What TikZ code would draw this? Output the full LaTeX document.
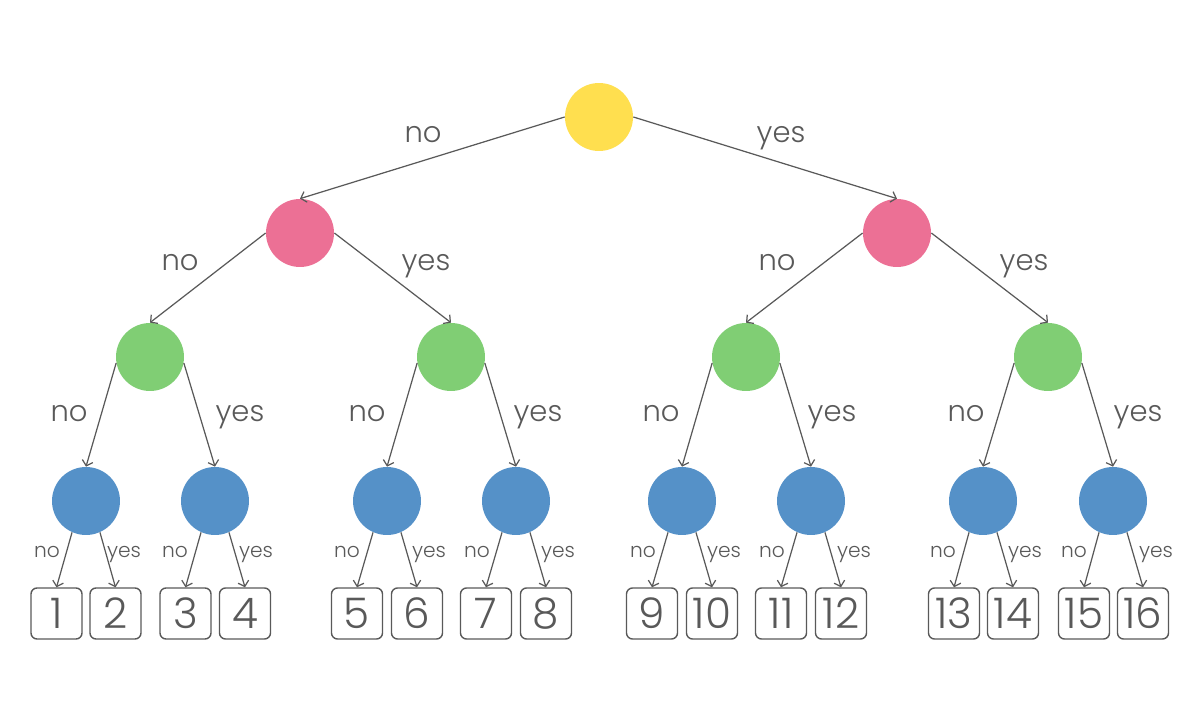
\documentclass[tikz,border=0pt]{standalone}
\usepackage{fontspec}
\setmainfont{Poppins}
\newfontfamily\lightfont{Poppins Light}
\usepackage{tikz}
\usetikzlibrary{arrows.meta}
\definecolor{rootc}{HTML}{FFDF4F}
\definecolor{pinkc}{HTML}{EC7095}
\definecolor{greenc}{HTML}{80CE74}
\definecolor{bluec}{HTML}{5591C8}
\definecolor{ink}{HTML}{595959}
\tikzset{
  dec/.style ={circle, minimum size=1.36cm, inner sep=0pt},
  leaf/.style={draw=ink, rounded corners=1.2mm, thick, minimum size=1.02cm, inner sep=0pt, text=ink, font=\lightfont\fontsize{24}{24}\selectfont},
  edge/.style={-{Straight Barb[length=1mm,width=2.2mm]}, draw=ink, line width=0.7pt},
  big/.style ={anchor=base, text=ink, font=\lightfont\fontsize{16.5}{16.5}\selectfont},
  small/.style={anchor=base, text=ink, font=\lightfont\fontsize{11.5}{11.5}\selectfont},
}
\begin{document}
\begin{tikzpicture}[x=0.02cm,y=-0.02cm]
  \useasboundingbox (0,0) rectangle (1200,722);
  % decision nodes
  \node[dec,fill=rootc]  (R)  at (599,117) {};
  \node[dec,fill=pinkc]  (P1) at (300,233) {};
  \node[dec,fill=pinkc]  (P2) at (897,233) {};
  \node[dec,fill=greenc] (G1) at (150,357) {};
  \node[dec,fill=greenc] (G2) at (451,357) {};
  \node[dec,fill=greenc] (G3) at (746,357) {};
  \node[dec,fill=greenc] (G4) at (1048,357) {};
  \node[dec,fill=bluec]  (B1) at (86,501) {};
  \node[dec,fill=bluec]  (B2) at (215,501) {};
  \node[dec,fill=bluec]  (B3) at (387,501) {};
  \node[dec,fill=bluec]  (B4) at (516,501) {};
  \node[dec,fill=bluec]  (B5) at (682,501) {};
  \node[dec,fill=bluec]  (B6) at (811,501) {};
  \node[dec,fill=bluec]  (B7) at (983,501) {};
  \node[dec,fill=bluec]  (B8) at (1113,501) {};
  % leaves
  \node[leaf] (L1)  at (56.5,613.5)  {1};
  \node[leaf] (L2)  at (115.5,613.5) {2};
  \node[leaf] (L3)  at (185.5,613.5) {3};
  \node[leaf] (L4)  at (245,613.5)   {4};
  \node[leaf] (L5)  at (357,613.5)   {5};
  \node[leaf] (L6)  at (417,613.5)   {6};
  \node[leaf] (L7)  at (486,613.5)   {7};
  \node[leaf] (L8)  at (546,613.5)   {8};
  \node[leaf] (L9)  at (652,613.5)   {9};
  \node[leaf] (L10) at (712,613.5)   {10};
  \node[leaf] (L11) at (781,613.5)   {11};
  \node[leaf] (L12) at (841,613.5)   {12};
  \node[leaf] (L13) at (954,613.5)   {13};
  \node[leaf] (L14) at (1013,613.5)  {14};
  \node[leaf] (L15) at (1084,613.5)  {15};
  \node[leaf] (L16) at (1143,613.5)  {16};
  % edges
  \draw[edge] (R.west) -- (P1.north);
  \draw[edge] (R.east) -- (P2.north);
  \draw[edge] (P1.west) -- (G1.north);
  \draw[edge] (P1.east) -- (G2.north);
  \draw[edge] (P2.west) -- (G3.north);
  \draw[edge] (P2.east) -- (G4.north);
  \draw[edge] (G1.190) -- (B1.north);
  \draw[edge] (G1.-10) -- (B2.north);
  \draw[edge] (G2.190) -- (B3.north);
  \draw[edge] (G2.-10) -- (B4.north);
  \draw[edge] (G3.190) -- (B5.north);
  \draw[edge] (G3.-10) -- (B6.north);
  \draw[edge] (G4.190) -- (B7.north);
  \draw[edge] (G4.-10) -- (B8.north);
  \draw[edge] (B1.-114) -- (L1.north);
  \draw[edge] (B1.-66)  -- (L2.north);
  \draw[edge] (B2.-114) -- (L3.north);
  \draw[edge] (B2.-66)  -- (L4.north);
  \draw[edge] (B3.-114) -- (L5.north);
  \draw[edge] (B3.-66)  -- (L6.north);
  \draw[edge] (B4.-114) -- (L7.north);
  \draw[edge] (B4.-66)  -- (L8.north);
  \draw[edge] (B5.-114) -- (L9.north);
  \draw[edge] (B5.-66)  -- (L10.north);
  \draw[edge] (B6.-114) -- (L11.north);
  \draw[edge] (B6.-66)  -- (L12.north);
  \draw[edge] (B7.-114) -- (L13.north);
  \draw[edge] (B7.-66)  -- (L14.north);
  \draw[edge] (B8.-114) -- (L15.north);
  \draw[edge] (B8.-66)  -- (L16.north);
  % answers
  \node[big] (aR1) at (423,143) {no};
  \node[big] (aR2) at (781,143) {yes};
  \node[big] (aP1) at (180,271) {no};
  \node[big] (aP2) at (426,271) {yes};
  \node[big] (aP3) at (777,271) {no};
  \node[big] (aP4) at (1024,271) {yes};
  \node[big] (aG1) at (69,422) {no};
  \node[big] (aG2) at (240,422) {yes};
  \node[big] (aG3) at (367,422) {no};
  \node[big] (aG4) at (538,422) {yes};
  \node[big] (aG5) at (661,422) {no};
  \node[big] (aG6) at (832,422) {yes};
  \node[big] (aG7) at (966,422) {no};
  \node[big] (aG8) at (1138,422) {yes};
  \node[small] (aB1)  at (47,558)   {no};
  \node[small] (aB2)  at (124,558)  {yes};
  \node[small] (aB3)  at (175,558)  {no};
  \node[small] (aB4)  at (256,558)  {yes};
  \node[small] (aB5)  at (347,558)  {no};
  \node[small] (aB6)  at (429,558)  {yes};
  \node[small] (aB7)  at (477,558)  {no};
  \node[small] (aB8)  at (558,558)  {yes};
  \node[small] (aB9)  at (643,558)  {no};
  \node[small] (aB10) at (724,558)  {yes};
  \node[small] (aB11) at (772,558)  {no};
  \node[small] (aB12) at (854,558)  {yes};
  \node[small] (aB13) at (943,558)  {no};
  \node[small] (aB14) at (1025,558) {yes};
  \node[small] (aB15) at (1074,558) {no};
  \node[small] (aB16) at (1156,558) {yes};
\end{tikzpicture}
\end{document}
